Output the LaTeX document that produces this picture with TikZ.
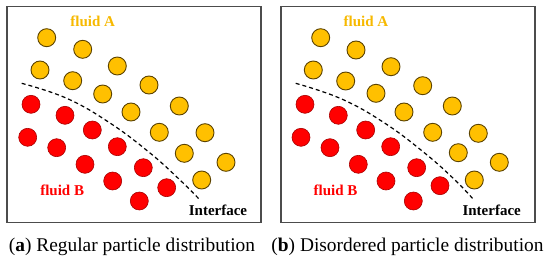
\documentclass[tikz,border=0pt]{standalone}
\usepackage{fontspec}
\setmainfont{Liberation Serif}
\usetikzlibrary{positioning}
\definecolor{yellowfill}{HTML}{FFC000}
\definecolor{yellowline}{HTML}{5C4300}
\definecolor{yellowtext}{HTML}{F7B900}
\definecolor{redfill}{HTML}{FF0000}
\definecolor{redline}{HTML}{A80000}
\tikzset{
  panel/.style={draw=black!70, line width=1.2pt, fill=white, inner sep=0pt,
                minimum width=254pt, minimum height=216pt},
  particleA/.style={circle, draw=yellowline, fill=yellowfill, line width=.9pt,
                    minimum size=18pt, inner sep=0pt},
  particleB/.style={circle, draw=redline, fill=redfill, line width=.6pt,
                    minimum size=18pt, inner sep=0pt},
  fluidtag/.style={font=\fontsize{15}{18}\selectfont\bfseries, anchor=base, inner sep=0pt},
  interface/.style={draw=black, line width=1.2pt, dash pattern=on 4pt off 3pt},
  caption/.style={font=\fontsize{19.4}{22}\selectfont, anchor=base, inner sep=0pt}
}

\begin{document}
\begin{tikzpicture}[x=1pt,y=-1pt]
\useasboundingbox (0,0) rectangle (550,260);

% Panel (a)
\node[panel] (panelA) at (134,114.7) {};
\foreach \px/\py [count=\i] in {46.7/37.7, 82.7/49.3, 40/70, 117.3/66, 72.7/80.7,
    149/85, 102.7/94, 179.3/106, 131/112, 159.3/132.3, 205/132.7, 184.3/153.3,
    226/162.3, 201.7/180}
  \node[particleA] (yellowA\i) at (\px,\py) {};
\foreach \px/\py [count=\i] in {31/104.3, 65/115.3, 27.7/137.3, 92.3/130, 56.7/147.7,
    117.3/146.7, 85/164.3, 143.3/167.7, 112.7/181, 166.7/187.7, 139.3/201}
  \node[particleB] (redA\i) at (\px,\py) {};
\draw[interface] plot[smooth, tension=.7] coordinates
  {(21.7,83.3) (66.7,98.3) (110,123) (150,153) (180,180) (200,200)};
\node[fluidtag, text=yellowtext] (fluidAa) at (92.7,26.7) {fluid A};
\node[fluidtag, text=redfill] (fluidBa) at (62.2,195) {fluid B};
\node[fluidtag] (interfaceA) at (218,215) {Interface};

% Panel (b)
\node[panel] (panelB) at (408,114.7) {};
\foreach \px/\py [count=\i] in {320.7/37.7, 356/50, 313.3/70, 391/66.7, 345.7/81,
    422.7/85.7, 376/93.3, 452.3/106, 404/112, 432.7/132.3, 478.3/133.3, 458.3/152.7,
    499.3/162.3, 474.3/180}
  \node[particleA] (yellowB\i) at (\px,\py) {};
\foreach \px/\py [count=\i] in {305/104.3, 338.3/115.3, 301/137.3, 365.7/130, 330/147.7,
    390.7/146.7, 358.3/164.3, 416.7/167.7, 386/181, 440/185.7, 413.3/201}
  \node[particleB] (redB\i) at (\px,\py) {};
\draw[interface] plot[smooth, tension=.7] coordinates
  {(295.7,83.3) (341.7,99) (385,123.3) (425,153.3) (455,180) (473.3,199.3)};
\node[fluidtag, text=yellowtext] (fluidAb) at (366,26.7) {fluid A};
\node[fluidtag, text=redfill] (fluidBb) at (335.5,195) {fluid B};
\node[fluidtag] (interfaceB) at (491.7,215) {Interface};

% Captions
\node[caption] (capA) at (132,251) {(\textbf{a}) Regular particle distribution};
\node[caption] (capB) at (407.5,251) {(\textbf{b}) Disordered particle distribution};

\end{tikzpicture}
\end{document}
